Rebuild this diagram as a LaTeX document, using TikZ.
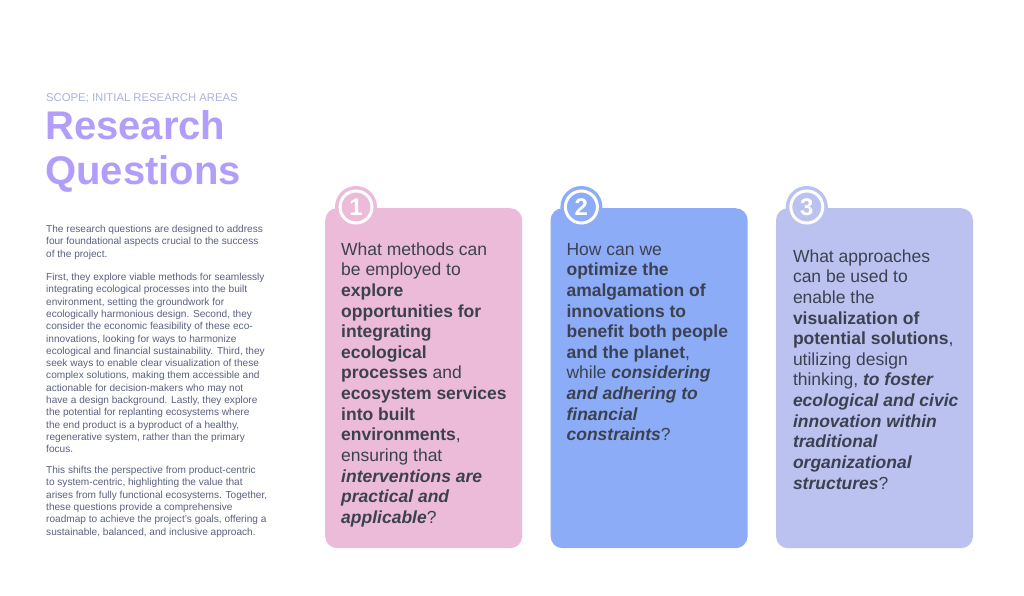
\documentclass[tikz,border=0pt]{standalone}
\usepackage{fontspec}
\setmainfont{Liberation Sans}
\usetikzlibrary{positioning}

\definecolor{cardpink}{HTML}{EBBBD9}
\definecolor{cardblue}{HTML}{8CACF8}
\definecolor{cardlilac}{HTML}{BBC2F0}
\definecolor{titlelilac}{HTML}{B39DFB}
\definecolor{scopegray}{HTML}{A9B3DF}
\definecolor{bodygray}{HTML}{5B617F}
\definecolor{inkdark}{HTML}{3C4150}

\newcommand{\qb}[1]{\textbf{#1}}
\newcommand{\qbi}[1]{\textbf{\textit{#1}}}

\tikzset{
  card/.style={rectangle, rounded corners=12pt, minimum width=197pt,
    minimum height=340pt, inner sep=0pt, fill=#1},
  badge/.style={circle, fill=#1, minimum size=42pt, inner sep=0pt},
  ring/.style={circle, draw=white, line width=3pt, minimum size=32pt,
    inner sep=0pt, text=white, font=\fontsize{24}{24}\selectfont\bfseries},
  question/.style={anchor=base west, align=left, inner sep=0pt,
    text=inkdark, font=\fontsize{17.5}{20.65}\selectfont},
  body/.style={anchor=base west, align=left, inner sep=0pt,
    text=bodygray, font=\fontsize{10.1}{12.3}\selectfont},
}

\begin{document}
\begin{tikzpicture}[x=1pt, y=-1pt]
    \useasboundingbox[fill=white] (0,0) rectangle (1024,596);

    % Add the heading (multi-line nodes sit on their last baseline)
    \node[anchor=base west, inner sep=0pt, text=scopegray,
          font=\fontsize{11.3}{12}\selectfont] (scope) at (46,102)
          {SCOPE; INITIAL RESEARCH AREAS};
    \node[anchor=base west, inner sep=0pt, align=left, text=titlelilac,
          font=\fontsize{40}{45}\selectfont\bfseries] (title) at (45,185)
          {Research\\Questions};

    % Add the intro text
    \node[body] (p1) at (46,257.1)
          {The research questions are designed to address\\
           four foundational aspects crucial to the success\\
           of the project.};
    \node[body] (p2) at (46,452.7)
          {First, they explore viable methods for seamlessly\\
           integrating ecological processes into the built\\
           environment, setting the groundwork for\\
           ecologically harmonious design. Second, they\\
           consider the economic feasibility of these eco-\\
           innovations, looking for ways to harmonize\\
           ecological and financial sustainability. Third, they\\
           seek ways to enable clear visualization of these\\
           complex solutions, making them accessible and\\
           actionable for decision-makers who may not\\
           have a design background. Lastly, they explore\\
           the potential for replanting ecosystems where\\
           the end product is a byproduct of a healthy,\\
           regenerative system, rather than the primary\\
           focus.};
    \node[body] (p3) at (46,535)
          {This shifts the perspective from product-centric\\
           to system-centric, highlighting the value that\\
           arises from fully functional ecosystems. Together,\\
           these questions provide a comprehensive\\
           roadmap to achieve the project's goals, offering a\\
           sustainable, balanced, and inclusive approach.};

    % Add the cards
    \node[card=cardpink, anchor=north west] (c1) at (325,208) {};
    \node[card=cardblue,  right=28pt of c1] (c2) {};
    \node[card=cardlilac, right=28pt of c2] (c3) {};

    % Add the number badges
    \node[badge=cardpink]  (b1) at ([shift={(31,-1)}]c1.north west) {};
    \node[badge=cardblue]  (b2) at ([shift={(31,-1)}]c2.north west) {};
    \node[badge=cardlilac] (b3) at ([shift={(31,-1)}]c3.north west) {};
    \node[ring] (r1) at (b1) {1};
    \node[ring] (r2) at (b2) {2};
    \node[ring] (r3) at (b3) {3};

    % Add the questions
    \node[question] (q1) at ([shift={(16,315.5)}]c1.north west)
          {What methods can\\
           be employed to\\
           \qb{explore}\\
           \qb{opportunities for}\\
           \qb{integrating}\\
           \qb{ecological}\\
           \qb{processes} and\\
           \qb{ecosystem services}\\
           \qb{into built}\\
           \qb{environments},\\
           ensuring that\\
           \qbi{interventions are}\\
           \qbi{practical and}\\
           \qbi{applicable}?};
    \node[question] (q2) at ([shift={(16,232.9)}]c2.north west)
          {How can we\\
           \qb{optimize the}\\
           \qb{amalgamation of}\\
           \qb{innovations to}\\
           \qb{benefit both people}\\
           \qb{and the planet},\\
           while \qbi{considering}\\
           \qbi{and adhering to}\\
           \qbi{financial}\\
           \qbi{constraints}?};
    \node[question] (q3) at ([shift={(17,281.2)}]c3.north west)
          {What approaches\\
           can be used to\\
           enable the\\
           \qb{visualization of}\\
           \qb{potential solutions},\\
           utilizing design\\
           thinking, \qbi{to foster}\\
           \qbi{ecological and civic}\\
           \qbi{innovation within}\\
           \qbi{traditional}\\
           \qbi{organizational}\\
           \qbi{structures}?};
\end{tikzpicture}
\end{document}
